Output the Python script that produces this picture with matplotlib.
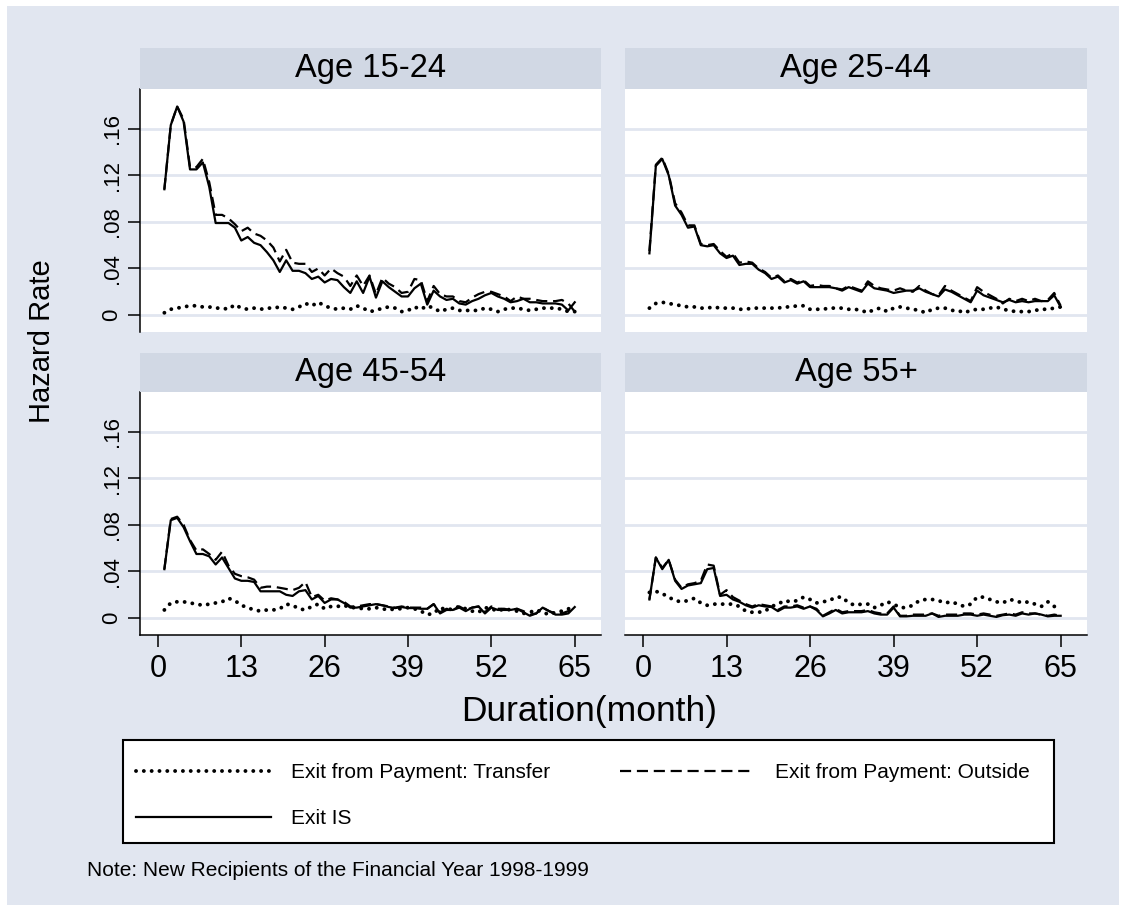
import numpy as np
import matplotlib
matplotlib.use('Agg')
import matplotlib.pyplot as plt
from matplotlib.patches import Rectangle

plt.rcParams['font.family'] = ['Liberation Sans', 'DejaVu Sans']

# 資料: 每個年齡組 65 個月的風險率
months = np.arange(1, 66)
panel_titles = ['Age 15-24', 'Age 25-44', 'Age 45-54', 'Age 55+']
series_labels = ['Exit from Payment: Transfer', 'Exit from Payment: Outside', 'Exit IS']
x_ticks = [0, 13, 26, 39, 52, 65]
y_ticks = [0, 0.04, 0.08, 0.12, 0.16]
y_ticklabels = ['0', '.04', '.08', '.12', '.16']

transfer_1524 = [.002, .005, .006, .007, .008, .008, .007, .007, .006, .006,
                 .005, .009, .006, .005, .006, .005, .006, .006, .007, .006,
                 .005, .007, .010, .008, .011, .008, .006, .005, .006, .005,
                 .008, .006, .003, .004, .006, .007, .006, .003, .004, .007,
                 .005, .008, .006, .003, .005, .006, .004, .004, .004, .004,
                 .006, .005, .003, .005, .006, .006, .005, .004, .005, .006,
                 .006, .006, .005, .003, .003]
outside_1524 = [.108, .163, .179, .168, .127, .127, .134, .114, .086, .086,
                .083, .078, .072, .075, .070, .068, .064, .058, .046, .056,
                .045, .044, .044, .037, .040, .034, .040, .036, .033, .025,
                .034, .025, .034, .018, .032, .027, .024, .019, .020, .031,
                .030, .012, .025, .018, .016, .016, .012, .011, .015, .018,
                .020, .020, .018, .016, .012, .016, .014, .014, .013, .012,
                .012, .012, .013, .010, .003]
exitis_1524 = [.108, .163, .179, .166, .125, .125, .131, .110, .079, .079,
               .079, .075, .064, .067, .062, .060, .054, .047, .037, .047,
               .038, .038, .036, .031, .033, .028, .031, .030, .024, .019,
               .029, .019, .033, .015, .029, .024, .020, .016, .016, .023,
               .027, .009, .021, .016, .013, .014, .010, .009, .012, .014,
               .017, .019, .016, .014, .011, .012, .014, .011, .011, .010,
               .010, .010, .009, .004, .011]

transfer_2544 = [.006, .010, .011, .010, .009, .008, .007, .007, .006, .006,
                 .007, .006, .006, .006, .005, .005, .006, .006, .006, .006,
                 .006, .007, .007, .008, .008, .005, .005, .005, .006, .006,
                 .006, .005, .005, .004, .002, .005, .006, .003, .006, .007,
                 .006, .005, .004, .002, .005, .006, .006, .004, .004, .002,
                 .004, .005, .005, .006, .007, .005, .004, .003, .003, .003,
                 .004, .005, .005, .006, .007]
outside_2544 = [.055, .129, .135, .121, .096, .088, .077, .077, .061, .060,
                .061, .055, .050, .053, .045, .046, .045, .040, .037, .032,
                .034, .029, .031, .028, .030, .025, .026, .025, .025, .023,
                .022, .025, .023, .021, .029, .025, .023, .022, .021, .023,
                .021, .020, .025, .021, .018, .017, .025, .021, .018, .015,
                .012, .024, .020, .017, .014, .010, .014, .012, .014, .012,
                .014, .012, .013, .019, .008]
exitis_2544 = [.053, .128, .134, .120, .094, .086, .075, .076, .060, .059,
               .060, .053, .049, .051, .043, .044, .044, .039, .036, .031,
               .033, .028, .030, .027, .029, .024, .024, .024, .024, .023,
               .021, .024, .022, .020, .027, .023, .022, .021, .019, .020,
               .021, .021, .023, .020, .018, .016, .022, .020, .017, .014,
               .011, .021, .017, .015, .013, .011, .013, .011, .012, .011,
               .012, .012, .012, .017, .007]

transfer_4554 = [.007, .013, .014, .014, .013, .012, .011, .012, .013, .014,
                 .017, .015, .011, .009, .007, .006, .007, .007, .008, .012,
                 .011, .008, .007, .010, .012, .008, .010, .010, .011, .009,
                 .009, .008, .008, .009, .008, .007, .008, .008, .009, .008,
                 .006, .003, .004, .009, .007, .008, .010, .008, .006, .005,
                 .009, .008, .006, .008, .007, .006, .004, .005, .007, .005,
                 .003, .005, .006, .008, .008]
outside_4554 = [.042, .085, .087, .080, .067, .058, .059, .055, .050, .057,
                .045, .038, .036, .035, .033, .026, .027, .027, .026, .025,
                .024, .026, .031, .018, .020, .015, .017, .016, .014, .010,
                .010, .011, .012, .012, .011, .010, .009, .010, .009, .009,
                .009, .008, .012, .005, .008, .007, .010, .007, .009, .010,
                .005, .010, .008, .008, .007, .008, .006, .003, .004, .009,
                .006, .004, .004, .006, .010]
exitis_4554 = [.042, .084, .086, .078, .066, .055, .055, .053, .046, .052,
               .043, .034, .032, .032, .031, .023, .023, .023, .023, .020,
               .019, .023, .024, .016, .019, .013, .016, .016, .013, .009,
               .009, .010, .011, .012, .011, .0095, .0086, .0095, .0086, .0086,
               .008, .008, .012, .004, .007, .007, .009, .006, .009, .010,
               .004, .009, .007, .007, .007, .008, .005, .002, .004, .009,
               .006, .003, .003, .004, .0095]

transfer_55 = [.022, .023, .021, .018, .015, .014, .015, .017, .013, .011,
               .012, .012, .012, .012, .010, .006, .005, .005, .006, .010,
               .012, .015, .014, .015, .018, .016, .013, .014, .015, .018,
               .018, .013, .011, .012, .012, .009, .011, .014, .012, .009,
               .009, .011, .015, .016, .016, .015, .013, .014, .012, .010,
               .012, .018, .018, .016, .014, .013, .016, .015, .013, .014,
               .012, .010, .014, .010, .010]
outside_55 = [.016, .052, .043, .050, .033, .026, .029, .030, .032, .046,
              .045, .020, .024, .018, .015, .012, .010, .012, .011, .010,
              .007, .010, .010, .011, .009, .010, .008, .002, .005, .008,
              .005, .006, .006, .006, .007, .005, .004, .004, .010, .002,
              .002, .003, .003, .003, .004, .002, .003, .003, .003, .004,
              .004, .003, .004, .003, .002, .003, .004, .003, .005, .004,
              .004, .003, .002, .003, .002]
exitis_55 = [.016, .052, .042, .050, .032, .025, .028, .029, .030, .042,
             .043, .019, .020, .016, .014, .011, .009, .011, .010, .0095,
             .006, .009, .009, .010, .008, .010, .007, .0015, .004, .007,
             .004, .005, .005, .005, .006, .004, .003, .003, .009, .0015,
             .0015, .002, .002, .002, .004, .001, .002, .002, .002, .003,
             .003, .002, .003, .002, .001, .0025, .003, .002, .004, .003,
             .004, .003, .0015, .002, .002]

transfer_all = [transfer_1524, transfer_2544, transfer_4554, transfer_55]
outside_all = [outside_1524, outside_2544, outside_4554, outside_55]
exitis_all = [exitis_1524, exitis_2544, exitis_4554, exitis_55]

# 顏色 (Stata s2color 風格)
bg_color = '#E1E6F0'
strip_color = '#D1D8E4'
grid_color = '#E1E6F0'

W, H = 1126, 911
fig = plt.figure(figsize=(W / 100, H / 100), dpi=100, facecolor='white')


def fx(px):
    return px / W


def fy(py):
    return 1 - py / H


# 外框背景
fig.add_artist(Rectangle((fx(7), fy(905)), (1119 - 7) / W, (905 - 6) / H,
                         transform=fig.transFigure, facecolor=bg_color,
                         edgecolor='none', zorder=0))

# 面板位置 (像素): x0, x1, strip top, plot top, plot bottom
panel_boxes = [(140, 601, 48, 89, 332), (625, 1087, 48, 89, 332),
               (140, 601, 353, 392, 635), (625, 1087, 353, 392, 635)]

handles = None
for i, (x0, x1, st, pt, pb) in enumerate(panel_boxes):
    ax = fig.add_axes([fx(x0), fy(pb), (x1 - x0) / W, (pb - pt) / H])
    ax.set_facecolor('white')
    l1, = ax.plot(months, transfer_all[i], color='black', lw=2.8,
                  linestyle=(0, (0.01, 2.0)), dash_capstyle='round')
    l2, = ax.plot(months, outside_all[i], color='black', lw=1.6,
                  linestyle=(0, (5, 2.6)))
    l3, = ax.plot(months, exitis_all[i], color='black', lw=1.6)
    if handles is None:
        handles = [l1, l3, l2]

    ax.set_xlim(-2.8, 69.1)
    ax.set_ylim(-0.0145, 0.194)
    ax.set_xticks(x_ticks)
    ax.set_yticks(y_ticks)
    ax.set_yticklabels(y_ticklabels)
    ax.yaxis.grid(True, color=grid_color, linewidth=2)
    ax.set_axisbelow(True)

    for s in ['top', 'right']:
        ax.spines[s].set_visible(False)
    left = i % 2 == 0
    bottom = i >= 2
    ax.spines['left'].set_visible(left)
    ax.spines['bottom'].set_visible(bottom)
    ax.spines['left'].set_linewidth(1.1)
    ax.spines['bottom'].set_linewidth(1.1)

    ax.tick_params(axis='x', bottom=bottom, labelbottom=bottom, length=8.6,
                   width=1.1, direction='out', labelsize=22, pad=5)
    ax.tick_params(axis='y', left=left, labelleft=left, length=8.6,
                   width=1.1, direction='out', labelsize=16, pad=4,
                   labelrotation=90)
    for lab in ax.get_yticklabels():
        lab.set_va('center')

    # 面板標題列
    fig.add_artist(Rectangle((fx(x0), fy(pt)), (x1 - x0) / W, (pt - st) / H,
                             transform=fig.transFigure, facecolor=strip_color,
                             edgecolor='none', zorder=1))
    fig.text(fx((x0 + x1) / 2), fy((st + pt) / 2), panel_titles[i],
             ha='center', va='center', fontsize=23.5, zorder=2)

fig.text(fx(589), fy(712), 'Duration(month)', ha='center', va='center',
         fontsize=25.5)
fig.text(fx(42), fy(341), 'Hazard Rate', ha='center', va='center',
         rotation=90, fontsize=21)

# 圖例外框
fig.add_artist(Rectangle((fx(123), fy(843)), (1054 - 123) / W, (843 - 740) / H,
                         transform=fig.transFigure, facecolor='white',
                         edgecolor='black', linewidth=1.5, zorder=1))
leg = fig.legend(handles, [series_labels[0], series_labels[2], series_labels[1]],
                 ncol=2, loc='upper left', mode='expand',
                 bbox_to_anchor=(fx(136), fy(836), (1030 - 136) / W, (836 - 763) / H),
                 borderaxespad=0, fontsize=15, handlelength=6.5,
                 handletextpad=0.95, borderpad=0, labelspacing=1.3,
                 columnspacing=3.0, frameon=False)
leg.set_zorder(2)

fig.text(fx(87), fy(871), 'Note: New Recipients of the Financial Year 1998-1999',
         ha='left', va='center', fontsize=15)

fig.savefig('out.png', dpi=100, facecolor='white')
